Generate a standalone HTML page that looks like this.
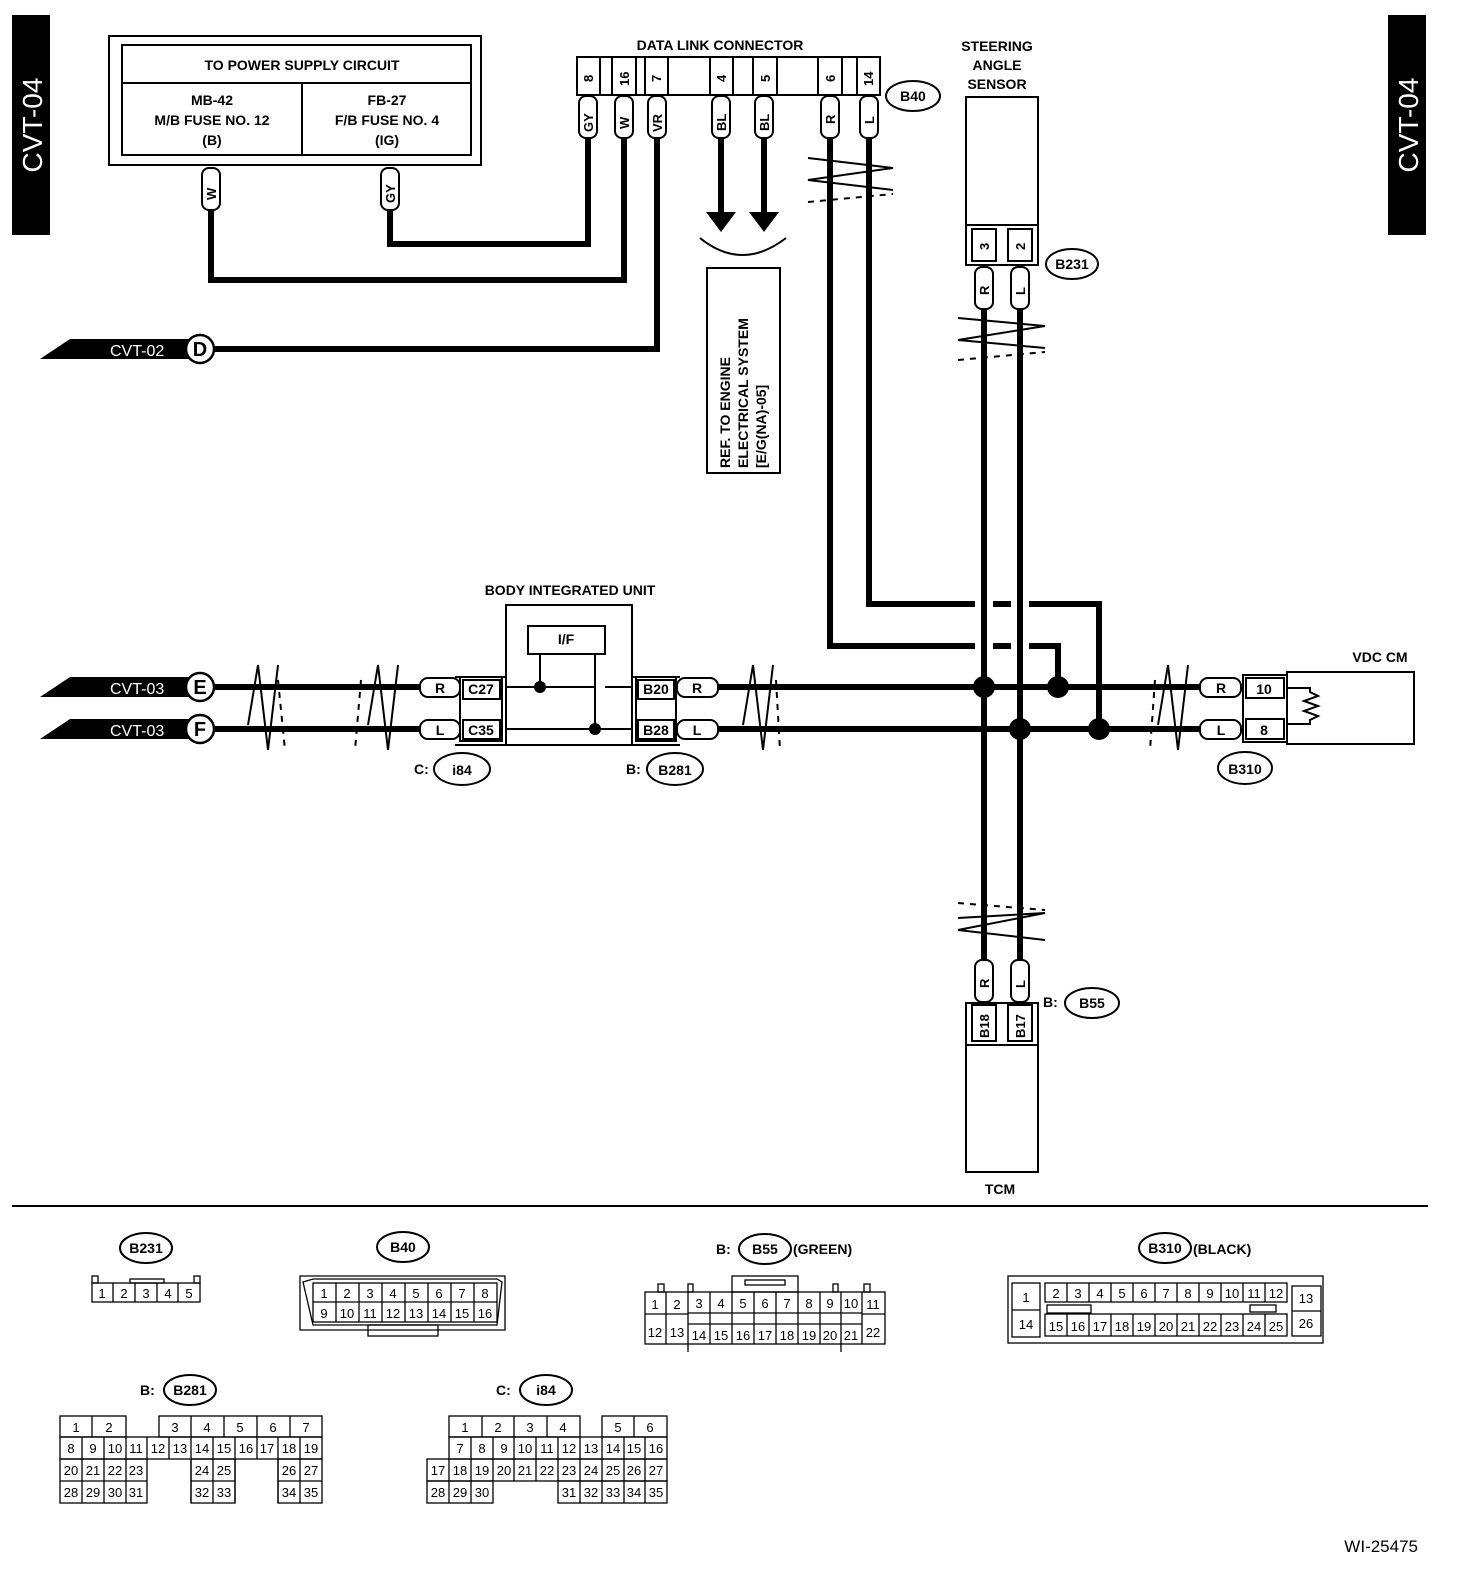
<!DOCTYPE html>
<html><head><meta charset="utf-8"><style>
html,body{margin:0;padding:0;background:#fff;overflow:hidden}
svg{display:block}
text{font-family:"Liberation Sans",sans-serif;font-weight:bold;fill:#000}
.c text{font-weight:normal;font-size:13px}
</style></head><body>
<svg width="1472" height="1582" viewBox="0 0 1472 1582" xmlns="http://www.w3.org/2000/svg">
<!-- side tabs -->
<rect x="12" y="15" width="38" height="220" fill="#000"/>
<text x="0" y="0" font-size="28" text-anchor="middle" style="fill:#fff;font-weight:normal" transform="translate(42,125) rotate(-90)">CVT-04</text>
<rect x="1388" y="15" width="38" height="220" fill="#000"/>
<text x="0" y="0" font-size="28" text-anchor="middle" style="fill:#fff;font-weight:normal" transform="translate(1418,125) rotate(-90)">CVT-04</text>

<!-- power supply box -->
<g fill="none" stroke="#000" stroke-width="2">
<rect x="109" y="36" width="372" height="129"/>
<rect x="122" y="45" width="349" height="110"/>
<line x1="122" y1="83" x2="471" y2="83"/>
<line x1="302" y1="83" x2="302" y2="155"/>
</g>
<g font-size="14" text-anchor="middle">
<text x="302" y="70">TO POWER SUPPLY CIRCUIT</text>
<text x="212" y="105">MB-42</text><text x="212" y="125">M/B FUSE NO. 12</text><text x="212" y="145">(B)</text>
<text x="387" y="105">FB-27</text><text x="387" y="125">F/B FUSE NO. 4</text><text x="387" y="145">(IG)</text>
</g>

<!-- wires thick -->
<g fill="none" stroke="#000" stroke-width="6" stroke-linejoin="miter">
<polyline points="211,208 211,280 624,280 624,138"/>
<polyline points="390,208 390,244 588,244 588,138"/>
<polyline points="657,138 657,349 214,349"/>
<line x1="721" y1="138" x2="721" y2="212"/>
<line x1="764" y1="138" x2="764" y2="212"/>
<polyline points="830,138 830,646 1058,646 1058,687"/>
<polyline points="869,138 869,604 1099,604 1099,729"/>
<line x1="984" y1="308" x2="984" y2="960"/>
<line x1="1020" y1="308" x2="1020" y2="960"/>
<line x1="214" y1="687" x2="420" y2="687"/>
<line x1="214" y1="729" x2="420" y2="729"/>
<line x1="718" y1="687" x2="1200" y2="687"/>
<line x1="718" y1="729" x2="1200" y2="729"/>
</g>
<!-- white gaps at crossings -->
<g stroke="#fff" stroke-width="8">
<line x1="975" y1="646" x2="993" y2="646"/><line x1="1011" y1="646" x2="1029" y2="646"/>
<line x1="975" y1="604" x2="993" y2="604"/><line x1="1011" y1="604" x2="1029" y2="604"/>
</g>
<g stroke="#000" stroke-width="6">
<line x1="984" y1="590" x2="984" y2="660"/><line x1="1020" y1="590" x2="1020" y2="660"/>
</g>
<g fill="#000">
<circle cx="984" cy="687" r="11"/><circle cx="1058" cy="687" r="11"/>
<circle cx="1020" cy="729" r="11"/><circle cx="1099" cy="729" r="11"/>
</g>
<!-- arrows -->
<polygon points="706,212 736,212 721,232" fill="#000"/>
<polygon points="749,212 779,212 764,232" fill="#000"/>
<path d="M700,238 Q742,272 786,238" fill="none" stroke="#000" stroke-width="2"/>
<rect x="707" y="268" width="73" height="205" fill="none" stroke="#000" stroke-width="2"/>
<g font-size="14" transform="translate(730,468) rotate(-90)"><text x="0" y="0">REF. TO ENGINE</text><text x="0" y="18">ELECTRICAL SYSTEM</text><text x="0" y="36">[E/G(NA)-05]</text></g>

<!-- wire tabs vertical -->
<g fill="#fff" stroke="#000" stroke-width="2">
<rect x="202" y="168" width="18" height="42" rx="7"/>
<rect x="381" y="168" width="18" height="42" rx="7"/>
<rect x="579" y="96" width="18" height="42" rx="7"/>
<rect x="615" y="96" width="18" height="42" rx="7"/>
<rect x="648" y="96" width="18" height="42" rx="7"/>
<rect x="712" y="96" width="18" height="42" rx="7"/>
<rect x="755" y="96" width="18" height="42" rx="7"/>
<rect x="821" y="96" width="18" height="42" rx="7"/>
<rect x="860" y="96" width="18" height="42" rx="7"/>
<rect x="975" y="267" width="18" height="42" rx="7"/>
<rect x="1011" y="267" width="18" height="42" rx="7"/>
<rect x="975" y="960" width="18" height="42" rx="7"/>
<rect x="1011" y="960" width="18" height="42" rx="7"/>
</g>
<g font-size="13">
<text transform="translate(216,200) rotate(-90)">W</text>
<text transform="translate(395,203) rotate(-90)">GY</text>
<text transform="translate(593,132) rotate(-90)">GY</text>
<text transform="translate(629,129) rotate(-90)">W</text>
<text transform="translate(662,132) rotate(-90)">VR</text>
<text transform="translate(726,131) rotate(-90)">BL</text>
<text transform="translate(769,131) rotate(-90)">BL</text>
<text transform="translate(835,124) rotate(-90)">R</text>
<text transform="translate(874,124) rotate(-90)">L</text>
<text transform="translate(989,295) rotate(-90)">R</text>
<text transform="translate(1025,295) rotate(-90)">L</text>
<text transform="translate(989,988) rotate(-90)">R</text>
<text transform="translate(1025,988) rotate(-90)">L</text>
</g>

<!-- DLC -->
<text x="720" y="50" font-size="14" text-anchor="middle">DATA LINK CONNECTOR</text>
<g fill="none" stroke="#000" stroke-width="2">
<rect x="577" y="57" width="303" height="38"/>
<line x1="600" y1="57" x2="600" y2="95"/><line x1="612" y1="57" x2="612" y2="95"/>
<line x1="636" y1="57" x2="636" y2="95"/><line x1="645" y1="57" x2="645" y2="95"/>
<line x1="668" y1="57" x2="668" y2="95"/><line x1="710" y1="57" x2="710" y2="95"/>
<line x1="733" y1="57" x2="733" y2="95"/><line x1="753" y1="57" x2="753" y2="95"/>
<line x1="777" y1="57" x2="777" y2="95"/><line x1="818" y1="57" x2="818" y2="95"/>
<line x1="842" y1="57" x2="842" y2="95"/><line x1="857" y1="57" x2="857" y2="95"/>
</g>
<g font-size="13">
<text transform="translate(593,82) rotate(-90)">8</text>
<text transform="translate(629,86) rotate(-90)">16</text>
<text transform="translate(661,82) rotate(-90)">7</text>
<text transform="translate(726,82) rotate(-90)">4</text>
<text transform="translate(770,82) rotate(-90)">5</text>
<text transform="translate(835,82) rotate(-90)">6</text>
<text transform="translate(873,86) rotate(-90)">14</text>
</g>
<ellipse cx="913" cy="96" rx="27" ry="15" fill="#fff" stroke="#000" stroke-width="2"/>
<text x="913" y="101" font-size="14" text-anchor="middle">B40</text>

<!-- break marks -->
<g fill="none" stroke="#000" stroke-width="2">
<polyline points="808,158 893,168 808,180 893,190"/>
<polyline points="958,318 1045,326 958,340 1045,348"/>
<polyline points="958,918 1045,913 958,930 1045,940"/>
<polyline points="248,725 258,665 268,750 278,665"/>
<polyline points="368,725 378,665 388,750 398,665"/>
<polyline points="743,725 753,665 763,750 773,665"/>
<polyline points="1158,725 1168,665 1178,750 1188,665"/>
</g>
<g stroke="#000" stroke-width="2" stroke-dasharray="6,6">
<line x1="808" y1="202" x2="893" y2="194"/>
<line x1="958" y1="360" x2="1045" y2="352"/>
<line x1="958" y1="903" x2="1045" y2="910"/>
<line x1="278" y1="680" x2="285" y2="750"/>
<line x1="361" y1="680" x2="355" y2="750"/>
<line x1="776" y1="680" x2="780" y2="750"/>
<line x1="1155" y1="680" x2="1150" y2="750"/>
</g>

<!-- steering angle sensor -->
<g font-size="14" text-anchor="middle"><text x="997" y="51">STEERING</text><text x="997" y="70">ANGLE</text><text x="997" y="89">SENSOR</text></g>
<g fill="none" stroke="#000" stroke-width="2">
<rect x="966" y="97" width="72" height="128"/>
<rect x="966" y="225" width="72" height="40"/>
<rect x="972" y="229" width="24" height="32"/><rect x="1008" y="229" width="24" height="32"/>
<rect x="966" y="1003" width="72" height="169"/>
<line x1="966" y1="1045" x2="1038" y2="1045"/>
<rect x="972" y="1005" width="24" height="36"/><rect x="1008" y="1005" width="24" height="36"/>
</g>
<g font-size="13">
<text transform="translate(989,250) rotate(-90)">3</text>
<text transform="translate(1025,250) rotate(-90)">2</text>
<text transform="translate(989,1038) rotate(-90)">B18</text>
<text transform="translate(1025,1038) rotate(-90)">B17</text>
</g>
<ellipse cx="1072" cy="264" rx="26" ry="15" fill="#fff" stroke="#000" stroke-width="2"/>
<text x="1072" y="269" font-size="14" text-anchor="middle">B231</text>
<text x="1043" y="1007" font-size="14">B:</text>
<ellipse cx="1092" cy="1003" rx="27" ry="15" fill="#fff" stroke="#000" stroke-width="2"/>
<text x="1092" y="1008" font-size="14" text-anchor="middle">B55</text>
<text x="1000" y="1194" font-size="14" text-anchor="middle">TCM</text>

<!-- CVT-02 / CVT-03 flags -->
<g fill="#000">
<polygon points="40,359 70,339 200,339 200,359"/>
<polygon points="40,697 70,677 200,677 200,697"/>
<polygon points="40,739 70,719 200,719 200,739"/>
</g>
<g font-size="16" style="font-weight:normal">
<text x="110" y="356" style="fill:#fff;font-weight:normal">CVT-02</text>
<text x="110" y="694" style="fill:#fff;font-weight:normal">CVT-03</text>
<text x="110" y="736" style="fill:#fff;font-weight:normal">CVT-03</text>
</g>
<g fill="#fff" stroke="#000" stroke-width="2.5">
<circle cx="200" cy="349" r="14"/><circle cx="200" cy="687" r="14"/><circle cx="200" cy="729" r="14"/>
</g>
<g font-size="20" text-anchor="middle"><text x="200" y="356">D</text><text x="200" y="694">E</text><text x="200" y="736">F</text></g>

<!-- BIU -->
<text x="570" y="595" font-size="14" text-anchor="middle">BODY INTEGRATED UNIT</text>
<g fill="none" stroke="#000" stroke-width="2">
<rect x="506" y="605" width="126" height="140"/>
<rect x="528" y="626" width="77" height="28"/>
<line x1="540" y1="654" x2="540" y2="687"/><line x1="595" y1="654" x2="595" y2="729"/>
<line x1="506" y1="687" x2="595" y2="687"/><line x1="605" y1="687" x2="632" y2="687"/>
<line x1="506" y1="729" x2="632" y2="729"/>
<rect x="460" y="677" width="42" height="64"/>
<rect x="463" y="680" width="37" height="19"/><rect x="463" y="720" width="37" height="19"/>
<line x1="455" y1="677" x2="506" y2="677" /><line x1="455" y1="745" x2="506" y2="745"/>
<rect x="636" y="677" width="40" height="64"/>
<rect x="638" y="680" width="36" height="19"/><rect x="638" y="720" width="36" height="19"/>
<line x1="632" y1="677" x2="680" y2="677"/><line x1="632" y1="745" x2="680" y2="745"/>
<rect x="1243" y="675" width="44" height="67"/>
<rect x="1246" y="678" width="38" height="20"/><rect x="1246" y="719" width="38" height="20"/>
<rect x="1287" y="672" width="127" height="72"/>
<polyline points="1287,688 1310,688 1310,692 1318,696 1304,701 1318,706 1304,711 1318,716 1310,720 1310,724 1287,724"/>
</g>
<circle cx="540" cy="687" r="6"/><circle cx="595" cy="729" r="6"/>
<g fill="#fff" stroke="#000" stroke-width="2">
<rect x="420" y="678" width="40" height="19" rx="8"/><rect x="420" y="720" width="40" height="19" rx="8"/>
<rect x="677" y="678" width="41" height="19" rx="8"/><rect x="677" y="720" width="41" height="19" rx="8"/>
<rect x="1200" y="678" width="41" height="19" rx="8"/><rect x="1200" y="720" width="41" height="19" rx="8"/>
</g>
<g font-size="14" text-anchor="middle">
<text x="566" y="644">I/F</text>
<text x="440" y="693">R</text><text x="440" y="735">L</text>
<text x="481" y="694">C27</text><text x="481" y="735">C35</text>
<text x="656" y="694">B20</text><text x="656" y="735">B28</text>
<text x="697" y="693">R</text><text x="697" y="735">L</text>
<text x="1221" y="693">R</text><text x="1221" y="735">L</text>
<text x="1264" y="694">10</text><text x="1264" y="735">8</text>
<text x="1380" y="662">VDC CM</text>
</g>
<text x="414" y="774" font-size="14">C:</text>
<ellipse cx="462" cy="769" rx="28" ry="16" fill="#fff" stroke="#000" stroke-width="2"/>
<text x="462" y="775" font-size="14" text-anchor="middle">i84</text>
<text x="626" y="774" font-size="14">B:</text>
<ellipse cx="675" cy="769" rx="28" ry="16" fill="#fff" stroke="#000" stroke-width="2"/>
<text x="675" y="775" font-size="14" text-anchor="middle">B281</text>
<ellipse cx="1245" cy="768" rx="27" ry="16" fill="#fff" stroke="#000" stroke-width="2"/>
<text x="1245" y="774" font-size="14" text-anchor="middle">B310</text>

<line x1="12" y1="1206" x2="1428" y2="1206" stroke="#000" stroke-width="2"/>

<!-- bottom labels -->
<g fill="#fff" stroke="#000" stroke-width="2">
<ellipse cx="146" cy="1248" rx="26" ry="15"/><ellipse cx="403" cy="1247" rx="26" ry="15"/>
<ellipse cx="765" cy="1249" rx="26" ry="15"/><ellipse cx="1165" cy="1248" rx="26" ry="15"/>
<ellipse cx="190" cy="1390" rx="26" ry="15"/><ellipse cx="546" cy="1390" rx="26" ry="15"/>
</g>
<g font-size="14" text-anchor="middle">
<text x="146" y="1253">B231</text><text x="403" y="1252">B40</text>
<text x="765" y="1254">B55</text><text x="1165" y="1253">B310</text>
<text x="190" y="1395">B281</text><text x="546" y="1395">i84</text>
</g>
<g font-size="14"><text x="716" y="1254">B:</text><text x="793" y="1254">(GREEN)</text><text x="1193" y="1254">(BLACK)</text>
<text x="140" y="1395">B:</text><text x="496" y="1395">C:</text></g>
<text x="1418" y="1552" font-size="17" text-anchor="end" style="font-weight:normal">WI-25475</text>

<g class="c" fill="none" stroke="#000" stroke-width="1.3">
<!-- B231 -->
<rect x="92" y="1283" width="108" height="19"/>
<rect x="92" y="1276" width="6" height="7"/><rect x="194" y="1276" width="6" height="7"/><rect x="130" y="1279" width="34" height="4"/>
<line x1="113" y1="1283" x2="113" y2="1302"/><line x1="135" y1="1283" x2="135" y2="1302"/><line x1="157" y1="1283" x2="157" y2="1302"/><line x1="178" y1="1283" x2="178" y2="1302"/>
<!-- B40 -->
<path d="M300,1276 H505 V1330 H300 Z"/>
<path d="M303,1282 L313,1279 H497 L502,1282 L497,1325 H313 Z"/>
<rect x="368" y="1325" width="70" height="11"/>
<rect x="313" y="1283" width="184" height="39"/><line x1="313" y1="1302" x2="497" y2="1302"/>
<line x1="336" y1="1283" x2="336" y2="1322"/><line x1="359" y1="1283" x2="359" y2="1322"/><line x1="382" y1="1283" x2="382" y2="1322"/><line x1="405" y1="1283" x2="405" y2="1322"/><line x1="428" y1="1283" x2="428" y2="1322"/><line x1="451" y1="1283" x2="451" y2="1322"/><line x1="474" y1="1283" x2="474" y2="1322"/>
<!-- B55 -->
<rect x="732" y="1276" width="66" height="16"/><rect x="745" y="1280" width="40" height="5"/>
<rect x="645" y="1292" width="240" height="52"/>
<line x1="645" y1="1314" x2="688" y2="1314"/><line x1="862" y1="1314" x2="885" y2="1314"/>
<line x1="688" y1="1313" x2="862" y2="1313"/><line x1="688" y1="1324" x2="862" y2="1324"/>
<line x1="666" y1="1292" x2="666" y2="1344"/><line x1="688" y1="1292" x2="688" y2="1352"/>
<line x1="710" y1="1292" x2="710" y2="1344"/><line x1="732" y1="1292" x2="732" y2="1344"/><line x1="754" y1="1292" x2="754" y2="1344"/><line x1="776" y1="1292" x2="776" y2="1344"/><line x1="798" y1="1292" x2="798" y2="1344"/><line x1="820" y1="1292" x2="820" y2="1344"/><line x1="841" y1="1292" x2="841" y2="1352"/><line x1="862" y1="1292" x2="862" y2="1344"/>
<rect x="658" y="1284" width="6" height="8"/><rect x="688" y="1284" width="5" height="8"/><rect x="833" y="1284" width="5" height="8"/><rect x="864" y="1284" width="6" height="8"/>
<!-- B310 -->
<rect x="1008" y="1276" width="315" height="67"/>
<rect x="1012" y="1283" width="28" height="54"/><line x1="1012" y1="1310" x2="1040" y2="1310"/>
<rect x="1045" y="1283" width="242" height="19"/><rect x="1045" y="1314" width="242" height="22"/>
<rect x="1047" y="1305" width="44" height="8"/><rect x="1250" y="1305" width="26" height="7"/>
<rect x="1292" y="1286" width="29" height="50"/><line x1="1292" y1="1311" x2="1321" y2="1311"/>
<line x1="1067" y1="1283" x2="1067" y2="1302"/><line x1="1089" y1="1283" x2="1089" y2="1302"/><line x1="1111" y1="1283" x2="1111" y2="1302"/><line x1="1133" y1="1283" x2="1133" y2="1302"/><line x1="1155" y1="1283" x2="1155" y2="1302"/><line x1="1177" y1="1283" x2="1177" y2="1302"/><line x1="1199" y1="1283" x2="1199" y2="1302"/><line x1="1221" y1="1283" x2="1221" y2="1302"/><line x1="1243" y1="1283" x2="1243" y2="1302"/><line x1="1265" y1="1283" x2="1265" y2="1302"/>
<line x1="1067" y1="1314" x2="1067" y2="1336"/><line x1="1089" y1="1314" x2="1089" y2="1336"/><line x1="1111" y1="1314" x2="1111" y2="1336"/><line x1="1133" y1="1314" x2="1133" y2="1336"/><line x1="1155" y1="1314" x2="1155" y2="1336"/><line x1="1177" y1="1314" x2="1177" y2="1336"/><line x1="1199" y1="1314" x2="1199" y2="1336"/><line x1="1221" y1="1314" x2="1221" y2="1336"/><line x1="1243" y1="1314" x2="1243" y2="1336"/><line x1="1265" y1="1314" x2="1265" y2="1336"/>
<!-- B281 -->
<rect x="60" y="1416" width="66" height="21"/><line x1="92" y1="1416" x2="92" y2="1437"/>
<rect x="159" y="1416" width="163" height="21"/><line x1="191" y1="1416" x2="191" y2="1437"/><line x1="224" y1="1416" x2="224" y2="1437"/><line x1="257" y1="1416" x2="257" y2="1437"/><line x1="290" y1="1416" x2="290" y2="1437"/>
<rect x="60" y="1437" width="262" height="22"/>
<line x1="82" y1="1437" x2="82" y2="1503"/><line x1="104" y1="1437" x2="104" y2="1503"/><line x1="126" y1="1437" x2="126" y2="1503"/><line x1="147" y1="1437" x2="147" y2="1459"/><line x1="169" y1="1437" x2="169" y2="1459"/><line x1="191" y1="1437" x2="191" y2="1503"/><line x1="213" y1="1437" x2="213" y2="1503"/><line x1="235" y1="1437" x2="235" y2="1503"/><line x1="257" y1="1437" x2="257" y2="1459"/><line x1="278" y1="1437" x2="278" y2="1503"/><line x1="300" y1="1437" x2="300" y2="1503"/>
<rect x="60" y="1459" width="87" height="44"/><line x1="60" y1="1481" x2="147" y2="1481"/>
<rect x="191" y="1459" width="44" height="44"/><line x1="191" y1="1481" x2="235" y2="1481"/>
<rect x="278" y="1459" width="44" height="44"/><line x1="278" y1="1481" x2="322" y2="1481"/>
<!-- i84 -->
<rect x="449" y="1416" width="131" height="21"/><line x1="482" y1="1416" x2="482" y2="1437"/><line x1="514" y1="1416" x2="514" y2="1437"/><line x1="547" y1="1416" x2="547" y2="1437"/>
<rect x="602" y="1416" width="65" height="21"/><line x1="634" y1="1416" x2="634" y2="1437"/>
<rect x="449" y="1437" width="218" height="22"/>
<rect x="427" y="1459" width="240" height="22"/>
<rect x="427" y="1481" width="66" height="22"/><rect x="558" y="1481" width="109" height="22"/>
<line x1="449" y1="1459" x2="449" y2="1503"/><line x1="471" y1="1437" x2="471" y2="1503"/><line x1="493" y1="1437" x2="493" y2="1481"/><line x1="514" y1="1437" x2="514" y2="1481"/><line x1="536" y1="1437" x2="536" y2="1481"/><line x1="558" y1="1437" x2="558" y2="1481"/><line x1="580" y1="1437" x2="580" y2="1503"/><line x1="602" y1="1437" x2="602" y2="1503"/><line x1="624" y1="1437" x2="624" y2="1503"/><line x1="645" y1="1437" x2="645" y2="1503"/>
</g>
<g class="c" text-anchor="middle">
<text x="102" y="1298">1</text><text x="124" y="1298">2</text><text x="146" y="1298">3</text><text x="168" y="1298">4</text><text x="189" y="1298">5</text>
<text x="324" y="1298">1</text><text x="347" y="1298">2</text><text x="370" y="1298">3</text><text x="393" y="1298">4</text><text x="416" y="1298">5</text><text x="439" y="1298">6</text><text x="462" y="1298">7</text><text x="485" y="1298">8</text>
<text x="324" y="1318">9</text><text x="347" y="1318">10</text><text x="370" y="1318">11</text><text x="393" y="1318">12</text><text x="416" y="1318">13</text><text x="439" y="1318">14</text><text x="462" y="1318">15</text><text x="485" y="1318">16</text>
<text x="655" y="1309">1</text><text x="677" y="1309">2</text><text x="699" y="1308">3</text><text x="721" y="1308">4</text><text x="743" y="1308">5</text><text x="765" y="1308">6</text><text x="787" y="1308">7</text><text x="809" y="1308">8</text><text x="830" y="1308">9</text><text x="851" y="1308">10</text><text x="873" y="1309">11</text>
<text x="655" y="1337">12</text><text x="677" y="1337">13</text><text x="699" y="1340">14</text><text x="721" y="1340">15</text><text x="743" y="1340">16</text><text x="765" y="1340">17</text><text x="787" y="1340">18</text><text x="809" y="1340">19</text><text x="830" y="1340">20</text><text x="851" y="1340">21</text><text x="873" y="1337">22</text>
<text x="1026" y="1302">1</text><text x="1026" y="1329">14</text><text x="1306" y="1303">13</text><text x="1306" y="1328">26</text>
<text x="1056" y="1298">2</text><text x="1078" y="1298">3</text><text x="1100" y="1298">4</text><text x="1122" y="1298">5</text><text x="1144" y="1298">6</text><text x="1166" y="1298">7</text><text x="1188" y="1298">8</text><text x="1210" y="1298">9</text><text x="1232" y="1298">10</text><text x="1254" y="1298">11</text><text x="1276" y="1298">12</text>
<text x="1056" y="1331">15</text><text x="1078" y="1331">16</text><text x="1100" y="1331">17</text><text x="1122" y="1331">18</text><text x="1144" y="1331">19</text><text x="1166" y="1331">20</text><text x="1188" y="1331">21</text><text x="1210" y="1331">22</text><text x="1232" y="1331">23</text><text x="1254" y="1331">24</text><text x="1276" y="1331">25</text>
<text x="76" y="1432">1</text><text x="109" y="1432">2</text><text x="175" y="1432">3</text><text x="207" y="1432">4</text><text x="240" y="1432">5</text><text x="273" y="1432">6</text><text x="306" y="1432">7</text>
<text x="71" y="1453">8</text><text x="93" y="1453">9</text><text x="115" y="1453">10</text><text x="136" y="1453">11</text><text x="158" y="1453">12</text><text x="180" y="1453">13</text><text x="202" y="1453">14</text><text x="224" y="1453">15</text><text x="246" y="1453">16</text><text x="267" y="1453">17</text><text x="289" y="1453">18</text><text x="311" y="1453">19</text>
<text x="71" y="1475">20</text><text x="93" y="1475">21</text><text x="115" y="1475">22</text><text x="136" y="1475">23</text><text x="202" y="1475">24</text><text x="224" y="1475">25</text><text x="289" y="1475">26</text><text x="311" y="1475">27</text>
<text x="71" y="1497">28</text><text x="93" y="1497">29</text><text x="115" y="1497">30</text><text x="136" y="1497">31</text><text x="202" y="1497">32</text><text x="224" y="1497">33</text><text x="289" y="1497">34</text><text x="311" y="1497">35</text>
<text x="465" y="1432">1</text><text x="498" y="1432">2</text><text x="530" y="1432">3</text><text x="563" y="1432">4</text><text x="618" y="1432">5</text><text x="650" y="1432">6</text>
<text x="460" y="1453">7</text><text x="482" y="1453">8</text><text x="504" y="1453">9</text><text x="525" y="1453">10</text><text x="547" y="1453">11</text><text x="569" y="1453">12</text><text x="591" y="1453">13</text><text x="613" y="1453">14</text><text x="634" y="1453">15</text><text x="656" y="1453">16</text>
<text x="438" y="1475">17</text><text x="460" y="1475">18</text><text x="482" y="1475">19</text><text x="504" y="1475">20</text><text x="525" y="1475">21</text><text x="547" y="1475">22</text><text x="569" y="1475">23</text><text x="591" y="1475">24</text><text x="613" y="1475">25</text><text x="634" y="1475">26</text><text x="656" y="1475">27</text>
<text x="438" y="1497">28</text><text x="460" y="1497">29</text><text x="482" y="1497">30</text><text x="569" y="1497">31</text><text x="591" y="1497">32</text><text x="613" y="1497">33</text><text x="634" y="1497">34</text><text x="656" y="1497">35</text>
</g>
</svg>
</body></html>
